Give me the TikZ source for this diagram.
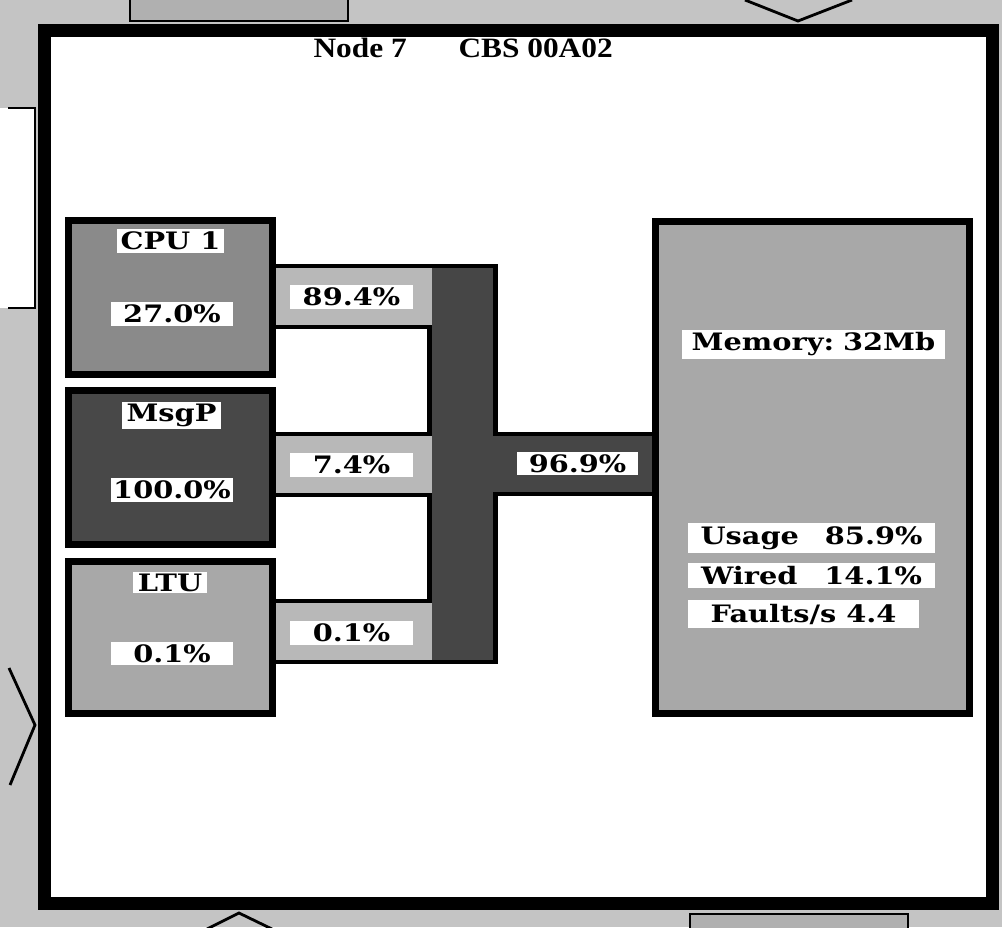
\documentclass[tikz,border=0pt]{standalone}
\usepackage{fontspec}
\usepackage{tikz}
\setmainfont{Liberation Serif}
\newfontfamily\panelfont[FakeStretch=1.2]{DejaVu Serif}
\newfontfamily\titlefont[FakeStretch=1.12]{Liberation Serif}
\definecolor{screen}{HTML}{C4C4C4}
\definecolor{tabgray}{HTML}{B0B0B0}
\definecolor{cpugray}{HTML}{8A8A8A}
\definecolor{msgpgray}{HTML}{484848}
\definecolor{ltugray}{HTML}{A8A8A8}
\definecolor{memgray}{HTML}{A8A8A8}
\definecolor{bargray}{HTML}{B8B8B8}
\definecolor{busgray}{HTML}{464646}

\begin{document}
\begin{tikzpicture}[x=1pt,y=-1pt,
  unit/.style={draw=black,line width=7,inner sep=0,minimum width=204},
  tag/.style={fill=white,inner sep=0,minimum height=24,
    font=\panelfont\bfseries\fontsize{24}{26}\selectfont},
  rim/.style={line width=2.8}]
  \useasboundingbox (0,0) rectangle (1002,927);
  \fill[screen] (0,0) rectangle (1002,927);
  \filldraw[fill=tabgray,rim] (130,-5) rectangle (348,21);
  \draw[rim] (745,0) -- (798,21) -- (852,0);
  \fill[white] (-2,108) rectangle (35,308);
  \draw[rim] (8,108) -| (35,308) -- (8,308);
  \draw[rim] (9,668) -- (35,725) -- (10,785);
  \draw[rim] (207,929) -- (239,913) -- (272,929);
  \filldraw[fill=tabgray,rim] (690,914) rectangle (908,935);
  \filldraw[fill=white,line width=13] (44.5,30.5) rectangle (992.5,903.5);
  \begin{scope}[font=\titlefont\bfseries\fontsize{28}{28}\selectfont]
    \node[anchor=base west] (title) at (310,57) {Node 7};
    \node[anchor=base west] (cbs) at (455,57) {CBS 00A02};
  \end{scope}
  \fill[busgray] (429.5,266) rectangle (495.5,662);
  \fill[busgray] (495.5,434) rectangle (655.5,494);
  \foreach \ya/\yb in {266/327,434/495,601/662}
    \fill[bargray] (272,\ya) rectangle (432,\yb);
  \draw[line width=4.5] (272,266) -- (495.5,266) -- (495.5,434) -- (655.5,434)
    (655.5,494) -- (495.5,494) -- (495.5,662) -- (272,662)
    (272,601) -- (429.5,601) |- (272,495)
    (272,434) -| (429.5,327) -- (272,327);
  \node[unit,fill=cpugray,minimum height=154] (cpu) at (170.5,297.5) {};
  \node[unit,fill=msgpgray,minimum height=154] (msgp) at (170.5,467.5) {};
  \node[unit,fill=ltugray,minimum height=152] (ltu) at (170.5,637.5) {};
  \node[unit,fill=memgray,minimum width=314,minimum height=492] (mem) at (812.5,467.5) {};
  \node[tag,minimum width=107] (cpuname) at (170.5,241) {CPU 1};
  \node[tag,minimum width=122] (cpuval) at (172,314) {27.0\%};
  \node[tag,minimum width=99,minimum height=27] (msgpname) at (171.5,415.5) {MsgP};
  \node[tag,minimum width=122] (msgpval) at (172,490) {100.0\%};
  \node[tag,minimum width=74,minimum height=21] (ltuname) at (170,582.5) {LTU};
  \node[tag,minimum width=122,minimum height=23] (ltuval) at (172,653.5) {0.1\%};
  \node[tag,minimum width=123] (cpuload) at (351.5,297) {89.4\%};
  \node[tag,minimum width=123] (msgpload) at (351.5,465) {7.4\%};
  \node[tag,minimum width=123] (ltuload) at (351.5,633) {0.1\%};
  \node[tag,minimum width=121,minimum height=23] (busload) at (577.5,463.5) {96.9\%};
  \node[tag,minimum width=263,minimum height=29] (memsize) at (813.5,344.5) {Memory:\hspace{9pt}32Mb};
  \node[tag,minimum width=247,minimum height=30] (usage) at (811.5,538) {Usage\hspace{26pt}85.9\%};
  \node[tag,minimum width=247,minimum height=25] (wired) at (811.5,575.5) {Wired\hspace{27pt}14.1\%};
  \node[tag,minimum width=231,minimum height=28] (faults) at (803.5,614) {Faults/s 4.4};
\end{tikzpicture}
\end{document}
